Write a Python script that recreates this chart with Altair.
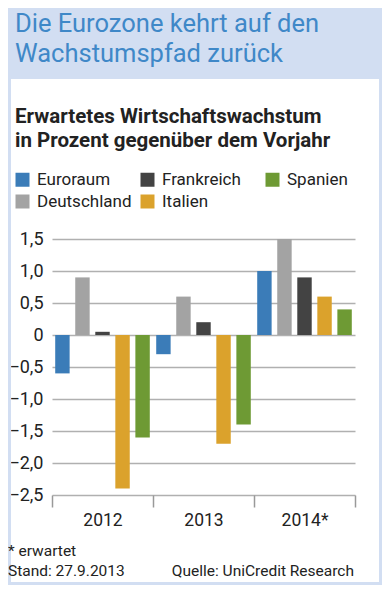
import altair as alt
import pandas as pd

years = ["2012", "2013", "2014*"]
countries = ["Euroraum", "Deutschland", "Frankreich", "Italien", "Spanien"]
euroraum = [-0.6, -0.3, 1.0]
deutschland = [0.9, 0.6, 1.5]
frankreich = [0.05, 0.2, 0.9]
italien = [-2.4, -1.7, 0.6]
spanien = [-1.6, -1.4, 0.4]
colors = ["#3b7cb8", "#a3a3a3", "#434343", "#dba22c", "#6e9a34"]
y_ticks = [-2.5, -2.0, -1.5, -1.0, -0.5, 0, 0.5, 1.0, 1.5]

series = dict(zip(countries, [euroraum, deutschland, frankreich, italien, spanien]))
rows = [{"year": y, "country": c, "value": v}
        for c, vals in series.items() for y, v in zip(years, vals)]
df = pd.DataFrame(rows)

W, H = 303, 256
FONT = "Roboto"
BLUE_BG = "#d2def2"
one = alt.Data(values=[{}])

def text(t, x, y, size, color="#222222", weight="normal", align="left", lh=None):
    kw = dict(text=t, font=FONT, fontSize=size, fontWeight=weight, color=color,
              align=align, baseline="alphabetic")
    if lh is not None:
        kw["lineHeight"] = lh
    return alt.Chart(one).mark_text(**kw).encode(x=alt.value(x), y=alt.value(y))

band = alt.Chart(one).mark_rect(color=BLUE_BG).encode(
    x=alt.value(-44), x2=alt.value(330), y=alt.value(-231), y2=alt.value(-160))
frame = alt.Chart(one).mark_rect(fillOpacity=0, stroke=BLUE_BG, strokeWidth=6).encode(
    x=alt.value(-44), x2=alt.value(330), y=alt.value(-231), y2=alt.value(346))

bars = alt.Chart(df).mark_bar().encode(
    x=alt.X("year:N", sort=years,
            scale=alt.Scale(paddingInner=0, paddingOuter=0),
            axis=alt.Axis(title=None, domain=False, ticks=True, tickBand="extent",
                          tickSize=12, tickColor="#999999", tickWidth=1.5,
                          labelAngle=0, labelPadding=4, labelFontSize=17.5,
                          labelFont=FONT, labelColor="#222222", grid=False, zindex=1)),
    xOffset=alt.XOffset("country:N", sort=countries,
                        scale=alt.Scale(paddingInner=0.28, paddingOuter=0.16)),
    y=alt.Y("value:Q", stack=None,
            scale=alt.Scale(domain=[-2.5, 1.5], nice=False, zero=False),
            axis=alt.Axis(title=None, values=y_ticks, domain=False, ticks=False,
                          grid=True, gridColor="#b0b0b0", gridWidth=1.5,
                          labelPadding=9, labelFontSize=18, labelFont=FONT,
                          labelColor="#222222",
                          labelExpr="datum.value == 0 ? '0' : replace(format(datum.value, '.1f'), '.', ',')")),
    y2=alt.datum(0),
    color=alt.Color("country:N",
                    scale=alt.Scale(domain=countries, range=colors),
                    legend=alt.Legend(title=None, orient="none", legendX=-38, legendY=-68,
                                      columns=3, gridAlign="all", columnPadding=7,
                                      rowPadding=4, symbolType="square", symbolSize=196,
                                      symbolStrokeWidth=0, symbolOpacity=1,
                                      labelFont=FONT, labelFontSize=17, labelOffset=6,
                                      labelColor="#222222", padding=0)),
)

chart = alt.layer(
    band, frame, bars,
    text("Die Eurozone kehrt auf den", -37, -207, 25.5, color="#3f88c8"),
    text("Wachstumspfad zurück", -37, -177, 25.5, color="#3f88c8"),
    text(["Erwartetes Wirtschaftswachstum", "in Prozent gegenüber dem Vorjahr"],
         -37, -116, 20.5, weight="bold", lh=24),
    text(["* erwartet", "Stand: 27.9.2013"], -44, 317, 15.5, lh=20),
    text("Quelle: UniCredit Research", 302, 337, 15.5, align="right"),
).properties(
    width=W, height=H,
    padding={"left": 44, "top": 231, "right": 27, "bottom": 90},
    autosize=alt.AutoSizeParams(type="none"),
    background="white",
).configure_view(stroke=None)

chart.save("out.html", embed_options={"renderer": "svg", "actions": False})
